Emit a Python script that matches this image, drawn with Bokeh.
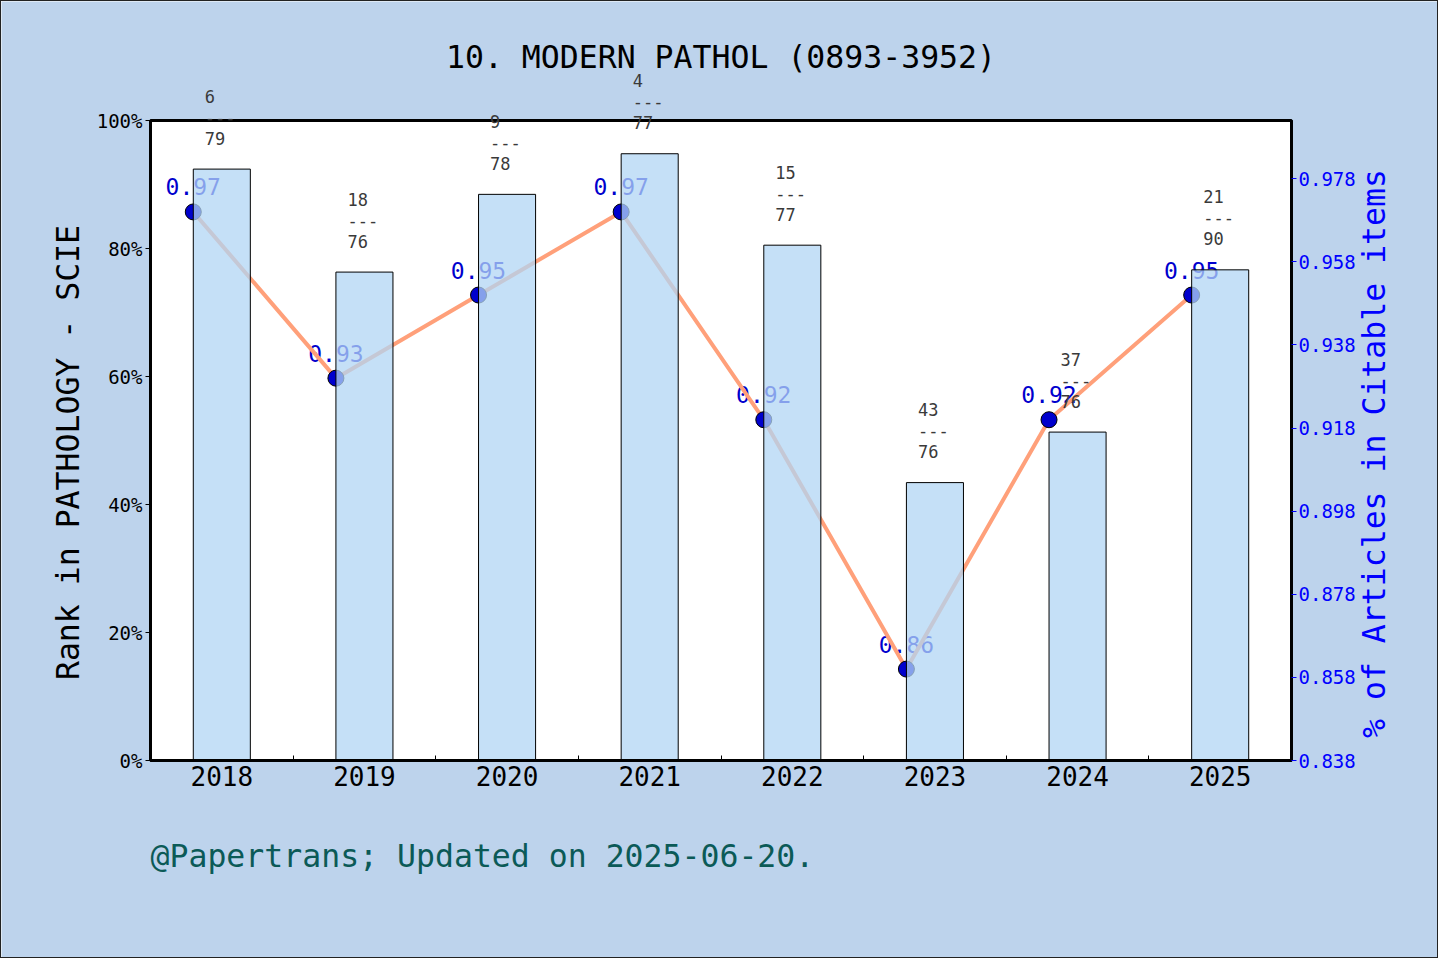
import math
from bokeh.plotting import figure
from bokeh.models import (Range1d, LinearAxis, FixedTicker, NumeralTickFormatter,
                          PrintfTickFormatter, ColumnDataSource, LabelSet, Label, Grid)
from bokeh.core.properties import value
from bokeh.embed import file_html
from bokeh.resources import INLINE

# ---------------- data ----------------
title_text = "10. MODERN PATHOL (0893-3952)"
footer_text = "@Papertrans; Updated on 2025-06-20."
left_label = "Rank in PATHOLOGY - SCIE"
right_label = "% of Articles in Citable items"
years = [2018, 2019, 2020, 2021, 2022, 2023, 2024, 2025]
rank = [6, 18, 9, 4, 15, 43, 37, 21]
total = [79, 76, 78, 77, 77, 76, 76, 90]
citable = [0.97, 0.93, 0.95, 0.97, 0.92, 0.86, 0.92, 0.95]
left_ticks = [0.0, 0.2, 0.4, 0.6, 0.8, 1.0]
right_ticks = [0.838, 0.858, 0.878, 0.898, 0.918, 0.938, 0.958, 0.978]

# ---------------- style / layout ----------------
BG = "#bdd3ec"
MONO = "DejaVu Sans Mono"
BIG = "31.5px"
BAR = (178, 214, 244)
LINE = "#ffa07a"
DOT = "#0000cd"
bar_w = 0.4

W, H = 1438, 958                      # canvas (plus 1px CSS border each side)
BOX_L, BOX_R, BOX_T, BOX_B = 149, 1290, 119, 759   # plot box in canvas px

x0, x1 = -0.5, len(years) - 0.5       # visible category span
y0, y1 = 0.0, 1.0                     # rank share span
r0, r1 = min(citable) - 0.022, max(citable) + 0.022  # right axis span

# map whole canvas to the ranges so that the plot box sits at BOX_*
xs = (x1 - x0) / (BOX_R - BOX_L)
ys = (y1 - y0) / (BOX_B - BOX_T)
rs = (r1 - r0) / (BOX_B - BOX_T)
x_range = Range1d(x0 - BOX_L * xs, x1 + (W - BOX_R) * xs)
y_range = Range1d(y0 - (H - BOX_B) * ys, y1 + BOX_T * ys)
r_range = Range1d(r0 - (H - BOX_B) * rs, r1 + BOX_T * rs)

idx = list(range(len(years)))
src = ColumnDataSource(dict(
    x=idx,
    xl=[i - bar_w / 2 for i in idx],
    share=[1 - r / t for r, t in zip(rank, total)],
    cit=citable,
    cit_txt=[f"{v:.2f}" for v in citable],
    num=[str(r) for r in rank],
    dash=["---"] * len(idx),
    den=[str(t) for t in total],
))

p = figure(width=W, height=H, output_backend="svg", toolbar_location=None,
           x_range=x_range, y_range=y_range,
           x_axis_location=None, y_axis_location=None,
           min_border=0, min_border_left=0, min_border_right=0,
           min_border_top=0, min_border_bottom=0,
           background_fill_color=BG, border_fill_color=BG,
           outline_line_color=None)
p.styles = {"border": "1px solid #222"}
p.extra_y_ranges = {"right": r_range}

# white plot box
box = p.quad(left=[x0], right=[x1], bottom=[y0], top=[y1],
             fill_color="white", line_color="black", line_width=3)
box.level = "image"

# value labels (under line, markers and bars)
p.add_layout(LabelSet(x="xl", y="cit", text="cit_txt", source=src, y_range_name="right",
                      y_offset=25, text_align="center", text_baseline="middle",
                      text_font=value(MONO), text_font_size=value("23px"),
                      text_color=DOT, level="underlay"))

# line + markers
p.line("xl", "cit", source=src, y_range_name="right", line_color=LINE, line_width=4)
p.scatter("xl", "cit", source=src, y_range_name="right", size=16,
          fill_color=DOT, line_color="black", line_width=1)

# bars over line
p.vbar(x="x", top="share", bottom=0, width=bar_w, source=src,
       fill_color=BAR, fill_alpha=0.75, line_color="black", line_width=1)

# rank fraction labels
for col, off in (("num", 73), ("dash", 52), ("den", 31)):
    p.add_layout(LabelSet(x="x", y="share", text=col, source=src,
                          x_offset=-17, y_offset=off, text_align="left",
                          text_baseline="middle", text_font=value(MONO),
                          text_font_size=value("17px"), text_color="#3a3a3a"))

# bottom axis
xa = LinearAxis(fixed_location=y0, bounds=(x0, x1),
                ticker=FixedTicker(ticks=idx, minor_ticks=[i + 0.5 for i in idx[:-1]]))
xa.major_label_overrides = {i: str(y) for i, y in zip(idx, years)}
xa.major_label_text_font = MONO
xa.major_label_text_font_size = "26px"
xa.major_label_text_color = "black"
xa.major_label_standoff = 5
xa.major_tick_in = 0
xa.major_tick_out = 0
xa.minor_tick_in = 5
xa.minor_tick_out = 0
xa.minor_tick_line_color = "black"
xa.axis_line_width = 3
xa.axis_line_color = "black"
p.add_layout(xa, "below")

# left axis
ya = LinearAxis(fixed_location=x0, bounds=(y0, y1), ticker=FixedTicker(ticks=left_ticks),
                formatter=NumeralTickFormatter(format="0%"))
ya.major_label_text_font = MONO
ya.major_label_text_font_size = "19px"
ya.major_label_text_color = "black"
ya.major_tick_in = 0
ya.major_tick_out = 5
ya.major_label_standoff = 3
ya.minor_tick_line_color = None
ya.axis_line_width = 3
ya.axis_line_color = "black"
p.add_layout(ya, "left")

# right axis
ra = LinearAxis(y_range_name="right", fixed_location=x1, bounds=(r0, r1),
                ticker=FixedTicker(ticks=right_ticks),
                formatter=PrintfTickFormatter(format="%.3f"))
ra.major_label_text_font = MONO
ra.major_label_text_font_size = "19px"
ra.major_label_text_color = "blue"
ra.major_tick_line_color = "blue"
ra.major_tick_in = 0
ra.major_tick_out = 5
ra.major_label_standoff = 2
ra.minor_tick_line_color = None
ra.axis_line_width = 3
ra.axis_line_color = "black"
p.add_layout(ra, "right")

# no grid lines
for g in p.select(type=Grid):
    g.visible = False

# axis titles (both read bottom-to-top)
p.add_layout(Label(x=x0, y=(y0 + y1) / 2, x_offset=-83, y_offset=-12, angle=math.pi / 2,
                   text=left_label, text_align="center", text_baseline="middle",
                   text_font=MONO, text_font_size=BIG, text_color="black"))
p.add_layout(Label(x=x1, y=(r0 + r1) / 2, y_range_name="right",
                   x_offset=82, y_offset=-13, angle=math.pi / 2,
                   text=right_label, text_align="center", text_baseline="middle",
                   text_font=MONO, text_font_size=BIG, text_color="blue"))

# title and footer
p.add_layout(Label(x=(x0 + x1) / 2, y=y1, y_offset=64,
                   text=title_text, text_align="center", text_baseline="middle",
                   text_font=MONO, text_font_size=BIG, text_color="black"))
p.add_layout(Label(x=x0, y=y0, y_offset=-95,
                   text=footer_text, text_align="left", text_baseline="middle",
                   text_font=MONO, text_font_size=BIG, text_color="#0b5a57"))

open("out.html", "w").write(file_html(p, INLINE))
